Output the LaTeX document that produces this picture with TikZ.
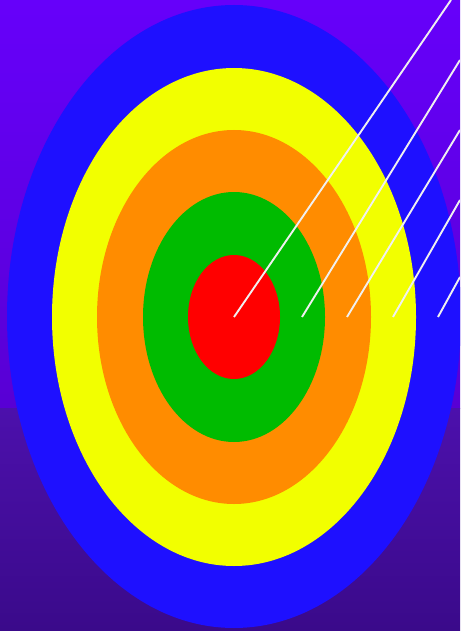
\documentclass[tikz,border=0pt]{standalone}
\begin{document}
\begin{tikzpicture}[x=1pt,y=-1pt,
  ring/.style={draw=none},
  wline/.style={draw=white!88!gray,line width=1.9pt}]
\definecolor{bgtopA}{HTML}{6600FA}
\definecolor{bgtopB}{HTML}{5800D4}
\definecolor{bgbotA}{HTML}{4C10AC}
\definecolor{bgbotB}{HTML}{3A0A8A}
\definecolor{cblue}{HTML}{1E10FF}
\definecolor{cyellow}{HTML}{F2FF00}
\definecolor{corange}{HTML}{FF8C00}
\definecolor{cgreen}{HTML}{00BB00}
\definecolor{cred}{HTML}{FF0000}
\useasboundingbox (0,0) rectangle (460,631);
\shade[top color=bgtopA,bottom color=bgtopB] (0,0) rectangle (460,408);
\shade[top color=bgbotA,bottom color=bgbotB] (0,408) rectangle (460,631);
\begin{scope}
\clip (0,0) rectangle (460,631);
\fill[cblue] (234,316.5) ellipse [x radius=227, y radius=311.5];
\fill[cyellow] (234,317) ellipse [x radius=182, y radius=249];
\fill[corange] (234,317) ellipse [x radius=137, y radius=187];
\fill[cgreen] (234,317) ellipse [x radius=91, y radius=125];
\fill[cred] (234,317) ellipse [x radius=46, y radius=62];
\coordinate (a1) at (234,317); \coordinate (b1) at (451,0);
\coordinate (a2) at (302,317); \coordinate (b2) at (460,60);
\coordinate (a3) at (347,317); \coordinate (b3) at (460,130);
\coordinate (a4) at (393,317); \coordinate (b4) at (460,200);
\coordinate (a5) at (438,317); \coordinate (b5) at (460,277);
\foreach \i in {1,...,5} \draw[wline] (a\i) -- (b\i);
\end{scope}
\end{tikzpicture}
\end{document}
